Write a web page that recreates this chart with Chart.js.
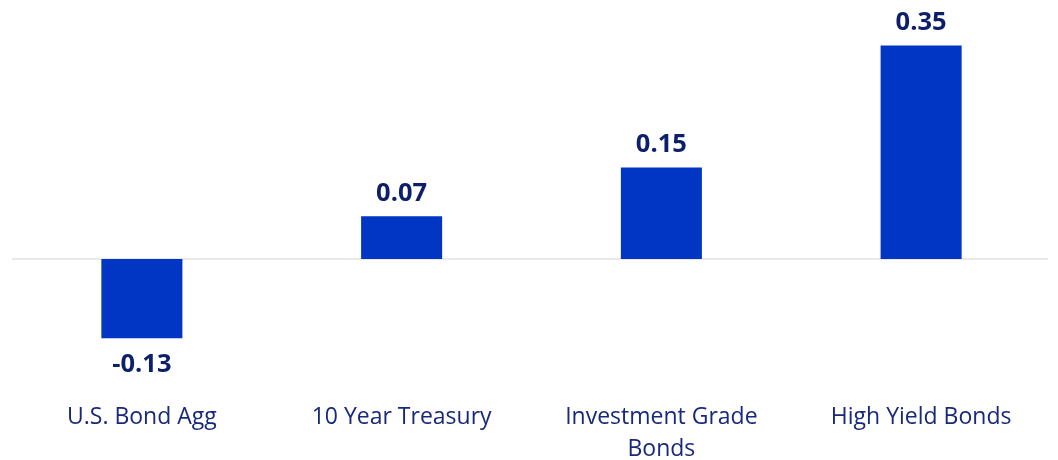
<!DOCTYPE html>
<html>
<head>
<meta charset="utf-8">
<script src="https://cdn.jsdelivr.net/npm/chart.js@4"></script>
<style>
  html, body { margin: 0; padding: 0; background: #fff; }
  #wrap { width: 1058px; height: 460px; }
</style>
</head>
<body>
<div id="wrap"><canvas id="chart"></canvas></div>
<script>
// chart data
const categories = ['U.S. Bond Agg', '10 Year Treasury', ['Investment Grade', 'Bonds'], 'High Yield Bonds'];
const values = [-0.13, 0.07, 0.15, 0.35];

const barColor = '#0036c3';
const labelColor = '#0d1f6b';

// draws the zero line and the value above / below each bar
const valueLabels = {
  id: 'valueLabels',
  beforeDatasetsDraw(chart) {
    const ctx = chart.ctx;
    const y0 = chart.scales.y.getPixelForValue(0);
    ctx.save();
    ctx.strokeStyle = '#e2e2e2';
    ctx.lineWidth = 1.5;
    ctx.beginPath();
    ctx.moveTo(chart.chartArea.left, y0);
    ctx.lineTo(chart.chartArea.right - 3, y0);
    ctx.stroke();
    ctx.restore();
  },
  afterDatasetsDraw(chart) {
    const ctx = chart.ctx;
    const meta = chart.getDatasetMeta(0);
    ctx.save();
    ctx.font = 'bold 25.5px "Open Sans"';
    ctx.fillStyle = labelColor;
    ctx.textAlign = 'center';
    ctx.textBaseline = 'middle';
    meta.data.forEach((bar, i) => {
      const v = values[i];
      const y = v >= 0 ? bar.y - 23 : bar.y + 26;
      ctx.fillText(v.toFixed(2), bar.x, y);
    });
    ctx.restore();
  }
};

new Chart(document.getElementById('chart'), {
  type: 'bar',
  data: {
    labels: categories,
    datasets: [{
      data: values,
      backgroundColor: barColor,
      borderWidth: 0,
      barPercentage: 0.312,
      categoryPercentage: 1
    }]
  },
  options: {
    responsive: true,
    maintainAspectRatio: false,
    animation: false,
    layout: { padding: { top: 15, left: 12, right: 7, bottom: 0 } },
    plugins: { legend: { display: false }, tooltip: { enabled: false } },
    scales: {
      x: {
        grid: { display: false, drawTicks: false },
        border: { display: false },
        ticks: {
          color: '#18297a',
          font: { family: 'Open Sans', size: 23, lineHeight: 1.4 },
          padding: 20,
          maxRotation: 0,
          autoSkip: false
        },
        afterFit(scale) { scale.height = 79; }
      },
      y: {
        display: false,
        min: -0.2,
        max: 0.4
      }
    }
  },
  plugins: [valueLabels]
});
</script>
</body>
</html>
